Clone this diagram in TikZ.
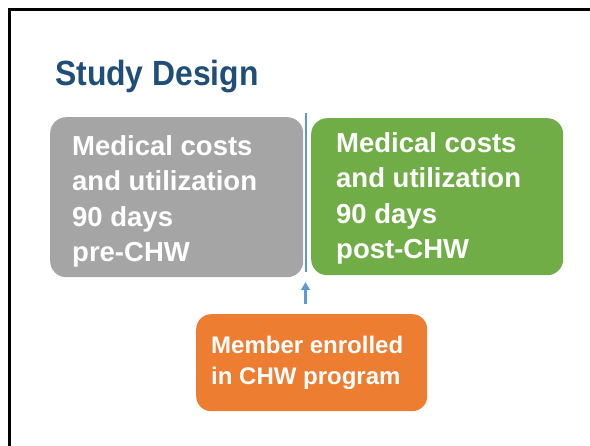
\documentclass[tikz,border=0pt]{standalone}
\usepackage{fontspec}
\setmainfont{Liberation Sans}
\newfontfamily\titlefont[FakeStretch=0.91]{Liberation Sans}
\usetikzlibrary{arrows.meta}
\definecolor{boxgray}{HTML}{A5A5A5}
\definecolor{boxgreen}{HTML}{70AD47}
\definecolor{boxorange}{HTML}{ED7D31}
\definecolor{divblue}{HTML}{5B9BD5}
\definecolor{titleblue}{HTML}{1F4E79}
\begin{document}
\begin{tikzpicture}[x=1pt,y=-1pt,
  panel/.style={rounded corners=16pt, inner sep=0pt, anchor=north west},
  boxtext/.style={text=white, font=\fontsize{27.5}{35.3}\selectfont\bfseries, align=left, anchor=base west, inner sep=0pt},
  smalltext/.style={text=white, font=\fontsize{24}{31}\selectfont\bfseries, align=left, anchor=base west, inner sep=0pt},
  divider/.style={draw=divblue, line width=2.2pt},
  uparrow/.style={draw=divblue, line width=2.8pt, -{Triangle[length=8pt,width=8.5pt]}}]
\useasboundingbox (0,0) rectangle (590,446);
\fill[white] (0,0) rectangle (590,446);
\draw[line width=3pt] (9,446) -- (9,10) -- (590,10);
\node[anchor=base west, inner sep=0pt, text=titleblue, font=\titlefont\fontsize{35}{40}\selectfont\bfseries] (title) at (55,86) {Study Design};
\node[panel, fill=boxgray, minimum width=253pt, minimum height=160pt] (pre) at (50,117) {};
\node[panel, fill=boxgreen, minimum width=252pt, minimum height=157pt] (post) at (311,118) {};
\node[panel, rounded corners=15pt, fill=boxorange, minimum width=231pt, minimum height=97pt] (member) at (196,314) {};
\node[boxtext] (pretext) at (72,261.6) {Medical costs\\and utilization\\90 days\\pre-CHW};
\node[boxtext] (posttext) at (336,258.6) {Medical costs\\and utilization\\90 days\\post-CHW};
\node[smalltext] (membertext) at (211,385) {Member enrolled\\in CHW program};
\coordinate (divtop) at (306,113);
\coordinate (divbot) at (306,272);
\draw[divider] (divtop) -- (divbot);
\coordinate (arrbot) at (305.5,304);
\coordinate (arrtip) at (305.5,282);
\draw[uparrow] (arrbot) -- (arrtip);
\end{tikzpicture}
\end{document}
